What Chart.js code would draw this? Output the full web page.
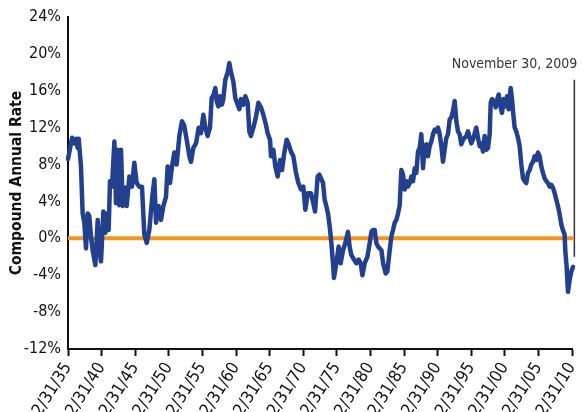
<!DOCTYPE html>
<html>
<head>
<meta charset="utf-8">
<script src="https://cdn.jsdelivr.net/npm/chart.js@4.4.1/dist/chart.umd.min.js"></script>
<style>
  html, body { margin: 0; padding: 0; background: #fff; }
  #wrap { width: 582px; height: 412px; }
</style>
</head>
<body>
<div id="wrap"><canvas id="rateChart" width="582" height="412"></canvas></div>
<script>
// rolling compound annual rate (x in axis years)
const years = [
  1936.00,1936.60,1936.94,1937.19,1937.44,1937.59,1937.93,1938.18,1938.43,1938.68,
  1938.93,1939.17,1939.42,1939.67,1940.07,1940.42,1940.66,1940.91,1941.26,1941.56,
  1941.75,1942.05,1942.25,1942.55,1942.90,1943.14,1943.39,1943.64,1943.89,1944.14,
  1944.53,1944.73,1945.13,1945.52,1945.87,1946.22,1946.61,1947.01,1947.36,1947.71,
  1948.10,1948.50,1948.85,1949.10,1949.49,1949.84,1950.19,1950.58,1950.83,1951.18,
  1951.48,1951.82,1952.17,1952.57,1952.96,1953.31,1953.66,1954.06,1954.30,1954.65,
  1955.05,1955.45,1955.79,1956.14,1956.44,1956.78,1957.13,1957.38,1957.68,1957.92,
  1958.12,1958.37,1958.62,1958.92,1959.11,1959.41,1959.76,1960.01,1960.26,1960.60,
  1960.90,1961.25,1961.50,1961.74,1962.09,1962.39,1962.74,1962.98,1963.23,1963.58,
  1963.98,1964.33,1964.72,1965.07,1965.46,1965.71,1966.06,1966.21,1966.56,1966.85,
  1967.20,1967.55,1967.85,1968.19,1968.54,1968.84,1969.18,1969.53,1969.93,1970.28,
  1970.67,1971.02,1971.32,1971.67,1972.16,1972.51,1972.76,1973.15,1973.40,
  1973.95,1974.19,1974.44,1974.69,1974.94,1975.19,1975.43,1975.58,1975.93,1976.28,
  1976.57,1976.92,1977.27,1977.67,1977.91,1978.16,1978.56,1978.91,1979.26,1979.56,
  1979.81,1980.15,1980.55,1980.90,1981.15,1981.40,1981.65,1981.89,1982.14,1982.39,
  1982.64,1982.89,1983.27,1983.52,1983.87,1984.12,1984.37,1984.62,1984.87,1985.11,
  1985.36,1985.61,1985.85,1986.10,1986.35,1986.60,1986.85,1987.09,1987.34,1987.59,
  1987.84,1988.08,1988.33,1988.58,1988.83,1989.08,1989.33,1989.57,1989.82,1990.07,
  1990.32,1990.57,1990.81,1991.06,1991.31,1991.56,1991.80,1992.05,1992.30,1992.55,
  1992.80,1993.04,1993.29,1993.54,1993.79,1994.03,1994.28,1994.53,1994.78,1995.03,
  1995.28,1995.52,1995.77,1996.02,1996.27,1996.52,1996.76,1997.01,1997.26,1997.51,
  1997.76,1998.00,1998.25,1998.50,1998.75,1998.90,1999.10,1999.40,1999.64,1999.89,
  2000.09,2000.39,2000.58,2000.83,2001.08,2001.33,2001.57,2001.87,2002.07,2002.22,
  2002.47,2002.71,2002.96,2003.21,2003.46,2003.71,2003.95,2004.20,2004.45,2004.70,
  2004.94,2005.19,2005.44,2005.69,2005.94,2006.18,2006.43,2006.68,2006.93,2007.18,
  2007.42,2007.67,2007.92,2008.17,2008.42,2008.66,2008.91,2009.16,2009.41,2009.65,
  2009.90,2010.00,2010.20,2010.40,2010.65,2010.90,2011.15,2011.30
];
const rates = [
  8.6,10.9,10.3,10.8,9.8,10.8,7.8,2.7,1.7,-1.1,
  2.7,2.4,0.2,-1.3,-2.9,2.0,-1.3,-2.5,2.9,0.6,
  2.7,0.9,6.2,5.6,10.5,3.8,9.6,3.6,9.6,3.5,
  5.5,3.5,6.7,5.6,8.2,6.0,5.6,5.6,0.4,-0.5,
  0.9,4.2,6.4,1.7,3.5,2.0,3.5,4.5,7.8,6.0,
  7.8,9.3,8.0,11.1,12.7,12.2,10.7,8.9,8.3,9.8,
  10.3,12.0,11.4,13.4,12.0,11.1,12.0,15.2,15.6,16.3,
  14.9,14.3,15.4,14.5,15.1,17.2,18.0,19.0,18.0,17.0,
  15.2,14.5,14.0,15.1,14.5,15.4,14.7,11.6,11.1,12.0,
  13.2,14.7,14.2,13.4,12.3,11.4,10.7,8.9,9.6,7.8,
  6.7,8.5,7.4,9.3,10.7,10.2,9.4,8.9,7.1,6.0,
  5.3,5.6,3.1,4.9,4.9,3.8,2.9,6.7,6.9,
  6.0,4.2,3.5,2.7,1.3,-0.5,-2.7,-4.3,-2.7,-0.9,
  -2.7,-1.3,-0.5,0.7,-0.9,-1.8,-2.3,-2.7,-2.3,-2.7,
  -4.0,-2.7,-2.0,-0.5,0.7,0.9,0.9,-0.5,-0.9,-1.1,
  -1.3,-2.7,-3.8,-3.6,-1.3,0.2,0.9,1.7,2.0,2.7,
  3.6,7.4,6.9,5.3,6.2,5.6,6.0,6.7,6.2,7.6,
  7.1,9.4,9.8,11.3,7.6,10.0,10.2,8.9,10.0,10.5,
  11.3,11.8,11.6,12.0,11.3,10.0,8.3,9.6,10.9,11.3,
  12.9,13.1,13.8,14.9,12.7,11.6,11.3,10.2,10.7,10.9,
  11.1,11.6,10.9,10.3,10.7,11.4,12.0,10.9,10.0,10.3,
  9.4,11.1,9.6,9.8,11.3,14.7,15.1,14.9,14.2,15.1,
  15.6,14.2,13.6,15.1,14.3,15.4,14.0,16.3,15.1,13.8,
  12.0,11.6,10.9,10.0,8.0,6.5,6.2,6.0,7.1,7.4,
  8.0,8.3,8.9,8.5,9.3,8.9,7.8,7.1,6.5,6.2,
  6.0,5.6,5.8,5.5,4.9,4.2,3.5,2.6,1.5,0.9,
  0.4,-1.3,-3.1,-5.8,-4.5,-3.6,-3.1,-3.2
];

const xTickValues = [1936,1941,1946,1951,1956,1961,1966,1971,1976,1981,1986,1991,1996,2001,2006,2011];
const xTickLabels = ['12/31/35','12/31/40','12/31/45','12/31/50','12/31/55','12/31/60','12/31/65','12/31/70',
  '12/31/75','12/31/80','12/31/85','12/31/90','12/31/95','12/31/00','12/31/05','12/31/10'];

const baselineYears = [1936, 2011.15];
const baselineValues = [0, 0];

// "November 30, 2009" marker
const markerYear = 2011.35;
const markerRange = [-2.0, 17.2];
const markerLabel = 'November 30, 2009';
const markerLabelValue = 18.9;

const NARROW = '"Liberation Sans Narrow", "DejaVu Sans Condensed", Arial, sans-serif';

const markerPlugin = {
  id: 'marker',
  afterDatasetsDraw(chart) {
    const { ctx, scales: { x, y } } = chart;
    const px = x.getPixelForValue(markerYear);
    ctx.save();
    ctx.strokeStyle = '#333';
    ctx.lineWidth = 1.5;
    ctx.beginPath();
    ctx.moveTo(px, y.getPixelForValue(markerRange[1]));
    ctx.lineTo(px, y.getPixelForValue(markerRange[0]));
    ctx.stroke();
    ctx.fillStyle = '#333';
    ctx.font = '14px ' + NARROW;
    ctx.textAlign = 'right';
    ctx.textBaseline = 'middle';
    ctx.fillText(markerLabel, px + 3, y.getPixelForValue(markerLabelValue));
    ctx.restore();
  }
};

const ctx = document.getElementById('rateChart').getContext('2d');

new Chart(ctx, {
  type: 'line',
  data: {
    datasets: [{
      label: 'Compound Annual Rate',
      data: years.map((yr, i) => ({ x: yr, y: rates[i] })),
      borderColor: '#22408e',
      borderWidth: 4.5,
      borderJoinStyle: 'round',
      borderCapStyle: 'round',
      pointRadius: 0,
      tension: 0,
      clip: false,
      order: 1
    }, {
      label: 'zero',
      data: baselineYears.map((yr, i) => ({ x: yr, y: baselineValues[i] })),
      borderColor: '#f7941d',
      borderWidth: 4,
      pointRadius: 0,
      clip: false,
      order: 2
    }]
  },
  options: {
    responsive: false,
    animation: false,
    devicePixelRatio: 1,
    layout: { padding: { top: 17, right: 10, left: 0, bottom: 0 } },
    plugins: {
      legend: { display: false },
      tooltip: { enabled: false }
    },
    scales: {
      x: {
        type: 'linear',
        min: 1936,
        max: 2011,
        afterBuildTicks(scale) {
          scale.ticks = xTickValues.map(v => ({ value: v }));
        },
        afterFit(scale) {
          scale.height = 63;
          scale.paddingLeft = 0;
          scale.paddingRight = 0;
        },
        grid: { drawOnChartArea: false, drawTicks: true, tickLength: 7, tickWidth: 2, tickColor: '#111' },
        border: { display: true, color: '#111', width: 2 },
        ticks: {
          autoSkip: false,
          minRotation: 58,
          maxRotation: 58,
          padding: 3,
          color: '#111',
          font: { family: NARROW, size: 17 },
          callback: (v, i) => xTickLabels[i]
        }
      },
      y: {
        min: -12,
        max: 24,
        afterFit(scale) { scale.width = 68; },
        grid: { display: false, drawTicks: false },
        border: { display: true, color: '#111', width: 2 },
        ticks: {
          stepSize: 4,
          padding: 7,
          color: '#111',
          font: { family: NARROW, size: 16 },
          callback: v => v + '%'
        },
        title: {
          display: true,
          text: 'Compound Annual Rate',
          color: '#111',
          font: { family: NARROW, size: 15.5, weight: 'bold' },
          padding: { top: 8, bottom: 0 }
        }
      }
    }
  },
  plugins: [markerPlugin]
});
</script>
</body>
</html>
